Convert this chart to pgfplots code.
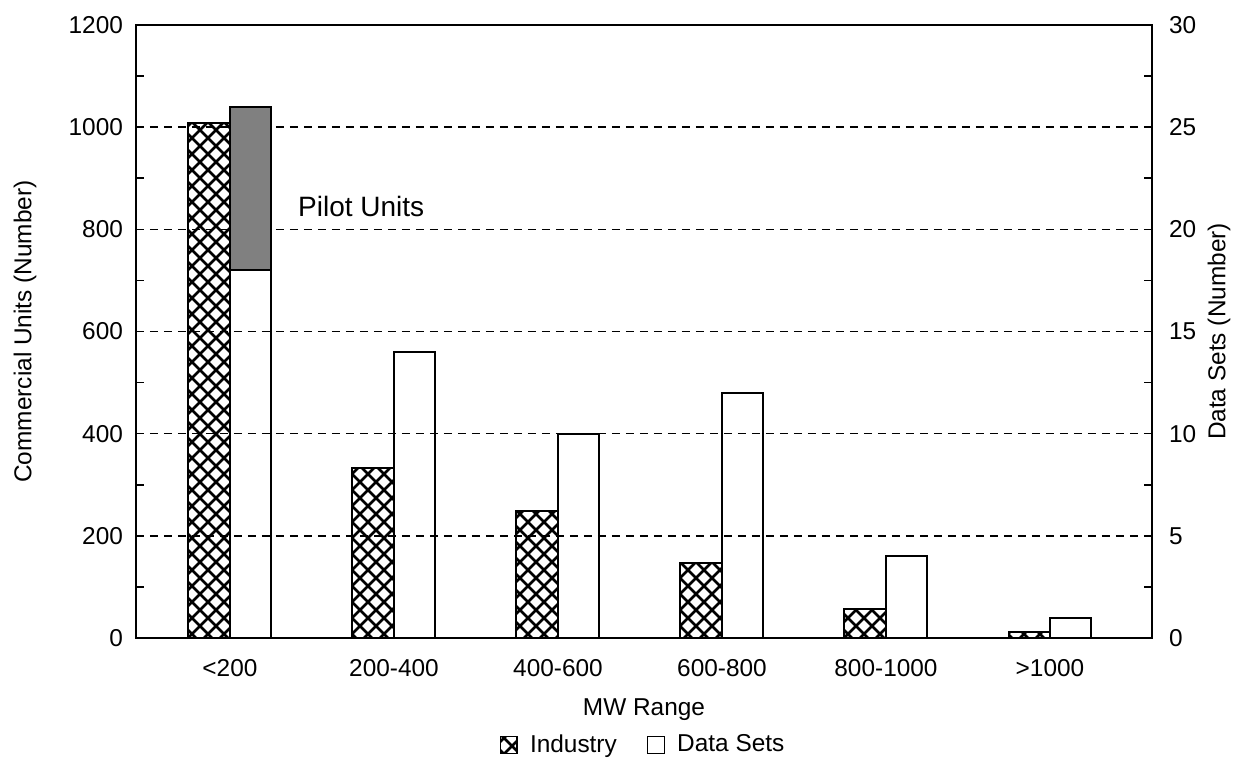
\documentclass[border=0pt]{standalone}
\usepackage{fontspec}
\setmainfont{Liberation Sans}
\usepackage{pgfplots}
\pgfplotsset{compat=1.18}
\usetikzlibrary{patterns}

% bold diagonal cross-hatch used for the industry bars
\pgfdeclarepatternformonly{diagcross}{\pgfqpoint{-1pt}{-1pt}}{\pgfqpoint{9pt}{9pt}}{\pgfqpoint{8pt}{8pt}}{%
  \pgfsetlinewidth{1.3pt}%
  \pgfpathmoveto{\pgfqpoint{-0.5pt}{-0.5pt}}\pgfpathlineto{\pgfqpoint{8.5pt}{8.5pt}}%
  \pgfpathmoveto{\pgfqpoint{-0.5pt}{8.5pt}}\pgfpathlineto{\pgfqpoint{8.5pt}{-0.5pt}}%
  \pgfusepath{stroke}}

\newcommand{\lbl}{\fontsize{12.2}{14}\selectfont}

\pgfplotsset{
  mwframe/.style={
    width=508pt, height=306.5pt, scale only axis,
    xmin=-0.573, xmax=5.622,
    xtick={0,...,5},
    xticklabels={<200,200-400,400-600,600-800,800-1000,>1000},
    tick align=inside,
    major tick length=4pt, minor tick length=4pt,
    minor y tick num=1,
    tick style={line width=0.8pt, black},
    axis line style={line width=1.2pt},
    /pgf/number format/assume math mode=true,
    /pgf/number format/1000 sep={},
    tick label style={font=\lbl},
    label style={font=\lbl},
    ybar, bar width=0.253,
  },
}

\begin{document}
\begin{tikzpicture}
% left axis: commercial units by industry
\begin{axis}[
  mwframe,
  ymin=0, ymax=1200, ytick={0,200,...,1200},
  ytick pos=left,
  xtick style={draw=none},
  xticklabel style={yshift=-3pt},
  yticklabel style={xshift=-3pt},
  ymajorgrids,
  major grid style={black, line width=0.8pt, dash pattern=on 4pt off 3pt},
  ylabel={Commercial Units (Number)},
  ylabel style={at={(axis description cs:-0.1093,0.5)}, anchor=center},
  xlabel={MW Range},
  xlabel style={at={(axis description cs:0.5,-0.1175)}, anchor=center},
]
\coordinate (SW) at (rel axis cs:0,0);
\coordinate (NE) at (rel axis cs:1,1);
\addplot[bar shift=-0.1265, draw=black, line width=1pt,
  pattern=diagcross, pattern color=black]
  coordinates {(0,1008) (1,333) (2,248) (3,146) (4,57) (5,12)};
\end{axis}

% right axis: data sets, with pilot units stacked on the first bar
\begin{axis}[
  mwframe,
  ymin=0, ymax=30, ytick={0,5,...,30},
  axis y line*=right, axis x line=none,
  ybar stacked, bar width=0.253, bar shift=0.1265,
  yticklabel style={xshift=5pt},
  ylabel={Data Sets (Number)},
  ylabel style={at={(axis description cs:1.066,0.5)}, anchor=center},
  legend style={at={(axis description cs:0.5,-0.1745)}, anchor=center,
    draw=none, fill=none, font=\lbl, legend columns=2,
    /tikz/every even column/.append style={column sep=13pt}},
  legend image code/.code={%
    \draw[#1, line width=0.8pt] (0pt,-4.2pt) rectangle (8.4pt,4.2pt);},
]
\addlegendimage{draw=black, pattern=diagcross, pattern color=black}
\addlegendentry{\hspace{4pt}Industry}
\addplot[draw=black, fill=none, line width=1pt]
  coordinates {(0,18) (1,14) (2,10) (3,12) (4,4) (5,1)};
\addlegendentry{\hspace{4pt}Data Sets}
\addplot[draw=black, fill=black!50, line width=1pt, forget plot]
  coordinates {(0,8) (1,0) (2,0) (3,0) (4,0) (5,0)};
\node[font=\fontsize{14}{16}\selectfont] at (axis cs:0.8,21.1) {Pilot Units};
\end{axis}

\pgfresetboundingbox
\path ([shift={(-68pt,-62pt)}]SW) rectangle ([shift={(41.5pt,12.5pt)}]NE);
\end{tikzpicture}
\end{document}
